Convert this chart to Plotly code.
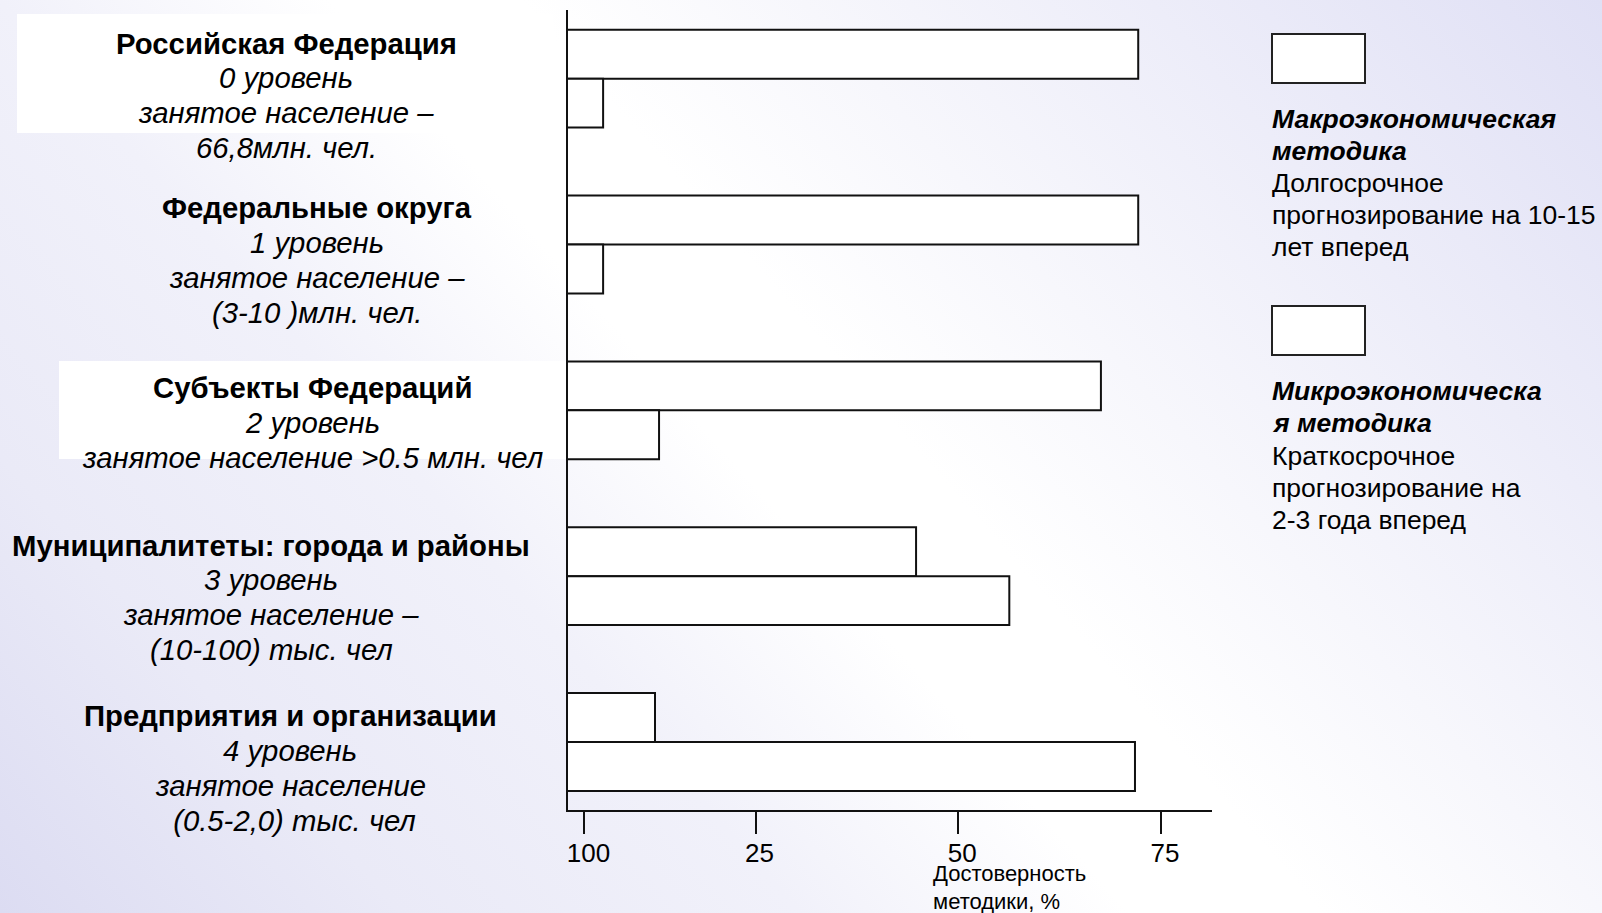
import base64
import plotly.graph_objects as go

# ---------------- data ----------------
levels = [
    "Российская Федерация",
    "Федеральные округа",
    "Субъекты Федераций",
    "Муниципалитеты: города и районы",
    "Предприятия и организации",
]
level_details = [
    ["0 уровень", "занятое население –", "66,8млн. чел."],
    ["1 уровень", "занятое население –", "(3-10 )млн. чел."],
    ["2 уровень", "занятое население >0.5 млн. чел"],
    ["3 уровень", "занятое население –", "(10-100) тыс. чел"],
    ["4 уровень", "занятое население", " (0.5-2,0) тыс. чел"],
]
series_names = ["Макроэкономическая методика", "Микроэкономическая методика"]
macro_values = [72.2, 72.2, 67.6, 44.8, 12.6]
micro_values = [6.2, 6.2, 13.1, 56.3, 71.8]
tick_vals = [3.9, 25, 50, 75]
tick_labels = ["100", "25", "50", "75"]
legend_titles = [["Макроэкономическая", "методика"], ["Микроэкономическа", "я методика"]]
legend_descriptions = [
    ["Долгосрочное", "прогнозирование на 10-15", "лет вперед"],
    ["Краткосрочное", "прогнозирование на", "2-3 года вперед"],
]
axis_title_lines = ["Достоверность", "методики, %"]

# ---------------- layout geometry (pixels) ----------------
W, H = 1602, 913
L, R, T, B = 568, 1212, 10, 810
PW, PH = R - L, B - T
FONT = "Liberation Sans, Arial, sans-serif"


def px(xp):
    return (xp - L) / PW


def py(yp):
    return 1 - (yp - T) / PH


fig = go.Figure()
fig.add_trace(go.Bar(
    y=levels, x=macro_values, orientation="h", name=series_names[0],
    marker=dict(color="white", line=dict(color="#111111", width=2)),
))
fig.add_trace(go.Bar(
    y=levels, x=micro_values, orientation="h", name=series_names[1],
    marker=dict(color="white", line=dict(color="#111111", width=2)),
))

# gradient background as an inline SVG image
svg = (
    '<svg xmlns="http://www.w3.org/2000/svg" width="1602" height="913" '
    'viewBox="0 0 1602 913" preserveAspectRatio="none">'
    '<defs><linearGradient id="g" x1="0" y1="1" x2="1.2" y2="0.4">'
    '<stop offset="0" stop-color="#dcdcf2"/>'
    '<stop offset="0.167" stop-color="#eaeaf7"/>'
    '<stop offset="0.333" stop-color="#f1f1fa"/>'
    '<stop offset="0.47" stop-color="#ffffff"/>'
    '<stop offset="0.55" stop-color="#ffffff"/>'
    '<stop offset="0.667" stop-color="#f7f7fc"/>'
    '<stop offset="1" stop-color="#e0e0f5"/>'
    '</linearGradient></defs>'
    '<rect width="1602" height="913" fill="url(#g)"/></svg>'
)
src = "data:image/svg+xml;base64," + base64.b64encode(svg.encode("utf-8")).decode("ascii")
images = [dict(
    source=src, xref="paper", yref="paper", x=px(0), y=py(0),
    sizex=W / PW, sizey=H / PH, xanchor="left", yanchor="top",
    sizing="stretch", layer="below",
)]

shapes = [
    # white panels behind two labels
    dict(type="rect", xref="paper", yref="paper", x0=px(17), x1=px(553), y0=py(14), y1=py(133),
         fillcolor="white", line=dict(width=0), layer="below"),
    dict(type="rect", xref="paper", yref="paper", x0=px(59), x1=px(566), y0=py(361), y1=py(459),
         fillcolor="white", line=dict(width=0), layer="below"),
    # legend swatches
    dict(type="rect", xref="paper", yref="paper", x0=px(1272), x1=px(1365), y0=py(34), y1=py(83),
         fillcolor="white", line=dict(color="#222222", width=2)),
    dict(type="rect", xref="paper", yref="paper", x0=px(1272), x1=px(1365), y0=py(306), y1=py(355),
         fillcolor="white", line=dict(color="#222222", width=2)),
]

annotations = []
label_cx = [286, 317, 312, 271, 290]
label_y0 = [43, 207.5, 387.5, 545, 715.5]
line_step = 34.9
for i, name in enumerate(levels):
    lines = ["<b>" + name + "</b>"] + ["<i>" + s + "</i>" for s in level_details[i]]
    for j, t in enumerate(lines):
        annotations.append(dict(
            text=t, xref="paper", yref="paper", x=px(label_cx[i]), y=py(label_y0[i] + j * line_step),
            xanchor="center", yanchor="middle", showarrow=False,
            font=dict(family=FONT, size=29.3, color="#000000"),
        ))

leg_y0 = [118.5, 391.3]
leg_step = 32.1
for k in range(2):
    lines = ["<b><i>" + s + "</i></b>" for s in legend_titles[k]] + legend_descriptions[k]
    for j, t in enumerate(lines):
        annotations.append(dict(
            text=t, xref="paper", yref="paper", x=px(1270), y=py(leg_y0[k] + j * leg_step),
            xanchor="left", yanchor="middle", showarrow=False,
            font=dict(family=FONT, size=26.5, color="#000000"),
        ))

for j, t in enumerate(axis_title_lines):
    annotations.append(dict(
        text=t, xref="paper", yref="paper", x=px(931), y=py(873.5 + j * 27.6),
        xanchor="left", yanchor="middle", showarrow=False,
        font=dict(family=FONT, size=22, color="#000000"),
    ))

fig.update_layout(
    width=W, height=H, autosize=False,
    margin=dict(l=L, r=W - R, t=T, b=H - B, pad=0),
    paper_bgcolor="white", plot_bgcolor="rgba(0,0,0,0)",
    barmode="group", bargap=0.41, bargroupgap=0,
    showlegend=False,
    images=images, shapes=shapes, annotations=annotations,
    xaxis=dict(
        range=[1.87, 81.3], showgrid=False, zeroline=False,
        showline=True, linecolor="#111111", linewidth=2,
        ticks="outside", ticklen=22, tickwidth=2, tickcolor="#111111",
        tickmode="array", tickvals=tick_vals, ticktext=tick_labels,
        ticklabelstandoff=-3, ticklabelshift=4,
        tickfont=dict(family=FONT, size=26, color="#000000"),
    ),
    yaxis=dict(
        type="category", range=[4.41, -0.414], showgrid=False, zeroline=False,
        showline=True, linecolor="#111111", linewidth=2, showticklabels=False, ticks="",
    ),
)

fig.write_html(
    "out.html",
    config={"displayModeBar": False},
    post_script="document.body.style.margin='0';document.body.style.overflow='hidden';",
)
